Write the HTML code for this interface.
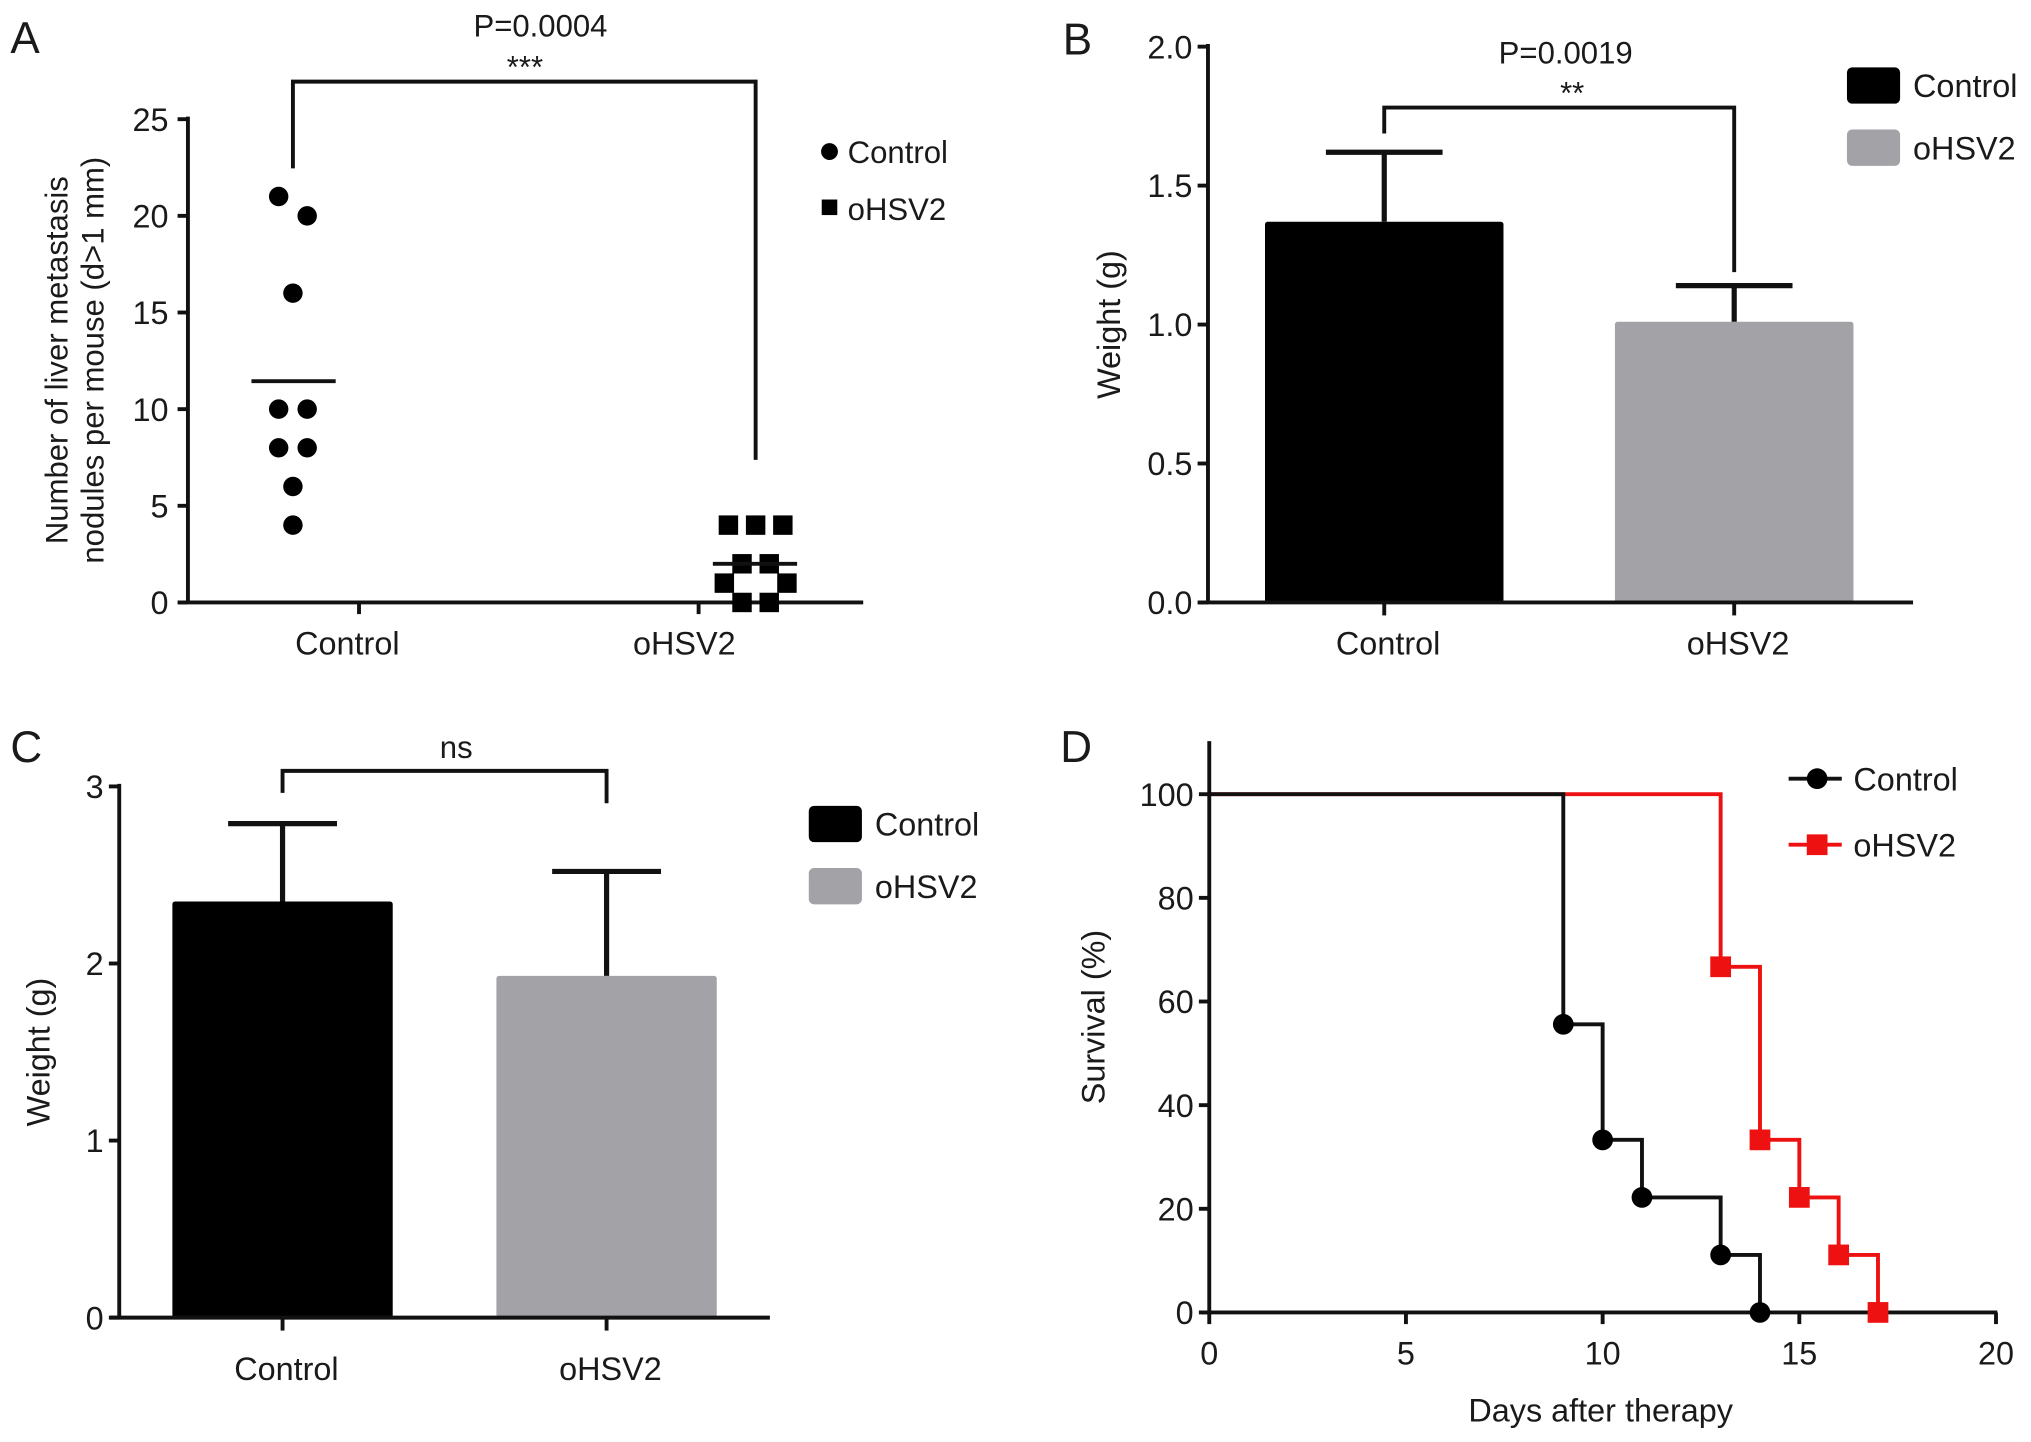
<!DOCTYPE html>
<html><head><meta charset="utf-8"><style>
html,body{margin:0;padding:0;background:#fff;}
svg{display:block;font-family:"Liberation Sans",Arial,sans-serif;}
text{fill:#1a1a1a;}
</style></head><body>
<svg id="fig" width="2031" height="1442" viewBox="0 0 1567 1113" preserveAspectRatio="none" xmlns="http://www.w3.org/2000/svg">
<g id="pA"></g>
<g id="pB"></g>
<g id="pC"></g>
<g id="pD"></g>
</svg>
<script>
// Panel A data
const aControlVals = [21, 20, 16, 10, 10, 8, 8, 6, 4];
const aControlJitter = [-1, 1, 0, -1, 1, -1, 1, 0, 0];
const aOhsvVals = [4, 4, 4, 2, 2, 1, 1, 0, 0];
const aOhsvJitter = [-2, 0, 2, -1, 1, -2.3, 2.3, -1, 1];
const aTicks = [0, 5, 10, 15, 20, 25];
// Panel B data
const bCategories = ["Control", "oHSV2"];
const bMeans = [1.37, 1.01];
const bErrors = [0.25, 0.13];
const bTicks = [0, 0.5, 1.0, 1.5, 2.0];
// Panel C data
const cCategories = ["Control", "oHSV2"];
const cMeans = [2.35, 1.93];
const cErrors = [0.44, 0.59];
const cTicks = [0, 1, 2, 3];
// Panel D data
const dControlDays = [0, 9, 10, 11, 13, 14];
const dControlSurv = [100, 55.6, 33.3, 22.2, 11.1, 0];
const dOhsvDays = [0, 13, 14, 15, 16, 17];
const dOhsvSurv = [100, 66.7, 33.3, 22.2, 11.1, 0];
const dYTicks = [0, 20, 40, 60, 80, 100];
const dXTicks = [0, 5, 10, 15, 20];

const NS = "http://www.w3.org/2000/svg";
function mk(parent, tag, attrs, txt) {
  const e = document.createElementNS(NS, tag);
  for (const k in attrs) e.setAttribute(k, attrs[k]);
  if (txt !== undefined) e.textContent = txt;
  parent.appendChild(e);
  return e;
}
const S = {stroke: "#111", "stroke-width": 3, fill: "none"};
function line(p, x1, y1, x2, y2, col, w) {
  return mk(p, "line", {x1, y1, x2, y2, stroke: col || "#111", "stroke-width": w || 3});
}
let el;

// ---------- Panel A ----------
(function () {
  const g = document.getElementById("pA");
  const ay = v => 465 - v * (373 / 25);
  const axL = 145, scale = 11;
  el = mk(g, "text", {x: 8, y: 41, "font-size": 34}, "A");
  
  
  el = line(g, axL, 90, axL, 466);
  
  
  el = line(g, 138, 465, 666, 465);
  
  
  aTicks.forEach(t => {
    line(g, 137, ay(t), axL, ay(t));
    el = mk(g, "text", {x: 130, y: ay(t) + 9, "font-size": 25, "text-anchor": "end"}, t);
    
    
  });
  line(g, 277, 465, 277, 474); line(g, 539, 465, 539, 474);
  el = mk(g, "text", {x: 268, y: 505, "font-size": 25, "text-anchor": "middle"}, "Control");
  
  
  el = mk(g, "text", {x: 528, y: 505, "font-size": 25, "text-anchor": "middle"}, "oHSV2");
  
  
  el = mk(g, "text", {transform: "translate(52,278) rotate(-90)", "font-size": 24, "text-anchor": "middle"}, "Number of liver metastasis");
  
  
  el = mk(g, "text", {transform: "translate(80,278) rotate(-90)", "font-size": 24, "text-anchor": "middle"}, "nodules per mouse (d>1 mm)");
  
  
  aControlVals.forEach((v, i) => {
    el = mk(g, "circle", {cx: 226 + aControlJitter[i] * scale, cy: ay(v), r: 7.5, fill: "#000"});
    
    
  });
  aOhsvVals.forEach((v, i) => {
    const cx = 583 + aOhsvJitter[i] * 10.5;
    el = mk(g, "rect", {x: cx - 7.5, y: ay(v) - 7.5, width: 15, height: 15, fill: "#000"});
    
    
  });
  const m1 = aControlVals.reduce((a, b) => a + b, 0) / aControlVals.length;
  const m2 = aOhsvVals.reduce((a, b) => a + b, 0) / aOhsvVals.length;
  el = line(g, 194, ay(m1), 259, ay(m1));
  
  
  el = line(g, 550, ay(m2), 615, ay(m2));
  
  
  el = mk(g, "polyline", Object.assign({points: "226,130 226,63 583,63 583,355"}, S));
  
  
  el = mk(g, "text", {x: 417, y: 28, "font-size": 24, "text-anchor": "middle"}, "P=0.0004");
  
  
  el = mk(g, "text", {x: 405, y: 60, "font-size": 24, "text-anchor": "middle"}, "***");
  
  
  el = mk(g, "circle", {cx: 640, cy: 117, r: 6.5, fill: "#000"});
  
  
  el = mk(g, "text", {x: 654, y: 126, "font-size": 24}, "Control");
  
  
  el = mk(g, "rect", {x: 634, y: 154, width: 12, height: 12, fill: "#000"});
  
  
  el = mk(g, "text", {x: 654, y: 170, "font-size": 24}, "oHSV2");
  
  
})();

// ---------- Bar panel helper ----------
function barPanel(gid, letter, lx, ly, axX, yTop, y0, vMax, ticks, fmt, xEnd, cats, means, errs, centers, halfW, capHalf, bracket, pText, sText, legX, legY, ytitleX, labOff) {
  const g = document.getElementById(gid);
  const yy = v => y0 - v * ((y0 - yTop) / vMax);
  const colors = ["#000", "#a2a2a7"];
  el = mk(g, "text", {x: lx, y: ly, "font-size": 34}, letter);
  
  
  cats.forEach((c, i) => {
    el = mk(g, "rect", {x: centers[i] - halfW, y: yy(means[i]), width: halfW * 2, height: y0 - yy(means[i]), fill: colors[i], rx: 2});
    
    
    el = line(g, centers[i], yy(means[i]), centers[i], yy(means[i] + errs[i]), "#111", 4);
    
    
    line(g, centers[i] - capHalf, yy(means[i] + errs[i]), centers[i] + capHalf, yy(means[i] + errs[i]), "#111", 4);
    line(g, centers[i], y0, centers[i], y0 + 10);
    el = mk(g, "text", {x: centers[i] + 3, y: y0 + labOff, "font-size": 25, "text-anchor": "middle"}, c);
    
    
  });
  el = line(g, axX, yTop - 2, axX, y0 + 1);
  
  
  el = line(g, axX - 7, y0, xEnd, y0);
  
  
  ticks.forEach(t => {
    line(g, axX - 8, yy(t), axX, yy(t));
    el = mk(g, "text", {x: axX - 12, y: yy(t) + 9, "font-size": 25, "text-anchor": "end"}, fmt(t));
    
    
  });
  el = mk(g, "text", {transform: "translate(" + ytitleX + "," + ((yTop + y0) / 2) + ") rotate(-90)", "font-size": 25, "text-anchor": "middle"}, "Weight (g)");
  
  
  el = mk(g, "polyline", Object.assign({points: bracket}, S));
  
  
  if (pText) {
    el = mk(g, "text", {x: pText[0], y: pText[1], "font-size": 24, "text-anchor": "middle"}, pText[2]);
    
    
  }
  el = mk(g, "text", {x: sText[0], y: sText[1], "font-size": 24, "text-anchor": "middle"}, sText[2]);
  
  
  cats.forEach((c, i) => {
    el = mk(g, "rect", {x: legX, y: legY + i * 48, width: 41, height: 28, rx: 4, fill: colors[i]});
    
    
    el = mk(g, "text", {x: legX + 51, y: legY + i * 48 + 23, "font-size": 25}, c);
    
    
  });
}
barPanel("pB", "B", 820, 42, 932, 36, 465, 2, bTicks, t => t.toFixed(1), 1476, bCategories, bMeans, bErrors, [1068, 1338], 92, 45,
  "1068,103 1068,83 1338,83 1338,210", [1208, 49, "P=0.0019"], [1213, 80, "**"], 1425, 52, 864, 40);
barPanel("pC", "C", 8, 588, 92, 607, 1017, 3, cTicks, t => String(t), 594, cCategories, cMeans, cErrors, [218, 468], 85, 42,
  "218,612 218,595 468,595 468,620", null, [352, 585, "ns"], 624, 622, 38, 48);

// ---------- Panel D ----------
(function () {
  const g = document.getElementById("pD");
  const x0 = 933, y0 = 1013;
  const dx = d => x0 + d * ((1540 - x0) / 20);
  const dy = v => y0 - v * ((y0 - 613) / 100);
  el = mk(g, "text", {x: 818, y: 588, "font-size": 34}, "D");
  
  
  function steps(days, surv) {
    let pts = [[dx(days[0]), dy(surv[0])]];
    for (let i = 1; i < days.length; i++) {
      pts.push([dx(days[i]), dy(surv[i - 1])]);
      pts.push([dx(days[i]), dy(surv[i])]);
    }
    return pts.map(p => p.join(",")).join(" ");
  }
  el = mk(g, "polyline", {points: steps(dOhsvDays, dOhsvSurv), stroke: "#ee1111", "stroke-width": 3, fill: "none"});
  
  
  el = mk(g, "polyline", {points: steps(dControlDays, dControlSurv), stroke: "#111", "stroke-width": 3, fill: "none"});
  
  
  el = line(g, x0, 572, x0, y0 + 1);
  
  
  el = line(g, x0 - 6, y0, 1541, y0);
  
  
  for (let i = 1; i < dOhsvDays.length; i++) {
    el = mk(g, "rect", {x: dx(dOhsvDays[i]) - 8, y: dy(dOhsvSurv[i]) - 8, width: 16, height: 16, fill: "#ee1111"});
    
    
  }
  for (let i = 1; i < dControlDays.length; i++) {
    el = mk(g, "circle", {cx: dx(dControlDays[i]), cy: dy(dControlSurv[i]), r: 8, fill: "#000"});
    
    
  }
  dYTicks.forEach(t => {
    line(g, x0 - 8, dy(t), x0, dy(t));
    el = mk(g, "text", {x: x0 - 12, y: dy(t) + 9, "font-size": 25, "text-anchor": "end"}, t);
    
    
  });
  dXTicks.forEach(t => {
    line(g, dx(t), y0, dx(t), y0 + 9);
    el = mk(g, "text", {x: dx(t), y: y0 + 40, "font-size": 25, "text-anchor": "middle"}, t);
    
    
  });
  el = mk(g, "text", {x: 1235, y: 1097, "font-size": 25, "text-anchor": "middle"}, "Days after therapy");
  
  
  el = mk(g, "text", {transform: "translate(852,785) rotate(-90)", "font-size": 25, "text-anchor": "middle"}, "Survival (%)");
  
  
  line(g, 1380, 601, 1421, 601);
  el = mk(g, "circle", {cx: 1402, cy: 601, r: 8, fill: "#000"});
  
  
  el = mk(g, "text", {x: 1430, y: 610, "font-size": 25}, "Control");
  
  
  line(g, 1380, 652, 1421, 652, "#ee1111");
  el = mk(g, "rect", {x: 1394, y: 644, width: 16, height: 16, fill: "#ee1111"});
  
  
  el = mk(g, "text", {x: 1430, y: 661, "font-size": 25}, "oHSV2");
  
  
})();
</script>
</body></html>
